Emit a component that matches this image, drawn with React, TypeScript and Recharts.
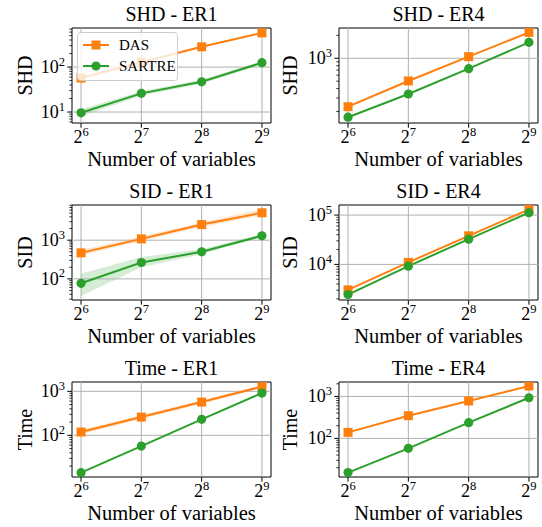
import React from "react";
import {
  ComposedChart,
  Line,
  Area,
  XAxis,
  YAxis,
  ReferenceLine,
  ReferenceArea,
} from "recharts";

// x positions are log2(number of variables)
const sizes = [6, 7, 8, 9];

const shdEr1Das = [57, 128, 282, 575];
const shdEr1DasLo = [54, 121, 268, 548];
const shdEr1DasHi = [60, 135, 296, 602];
const shdEr1Sartre = [9.6, 26, 47, 125];
const shdEr1SartreLo = [8, 23, 42.5, 114];
const shdEr1SartreHi = [11.6, 29, 52, 136];

const shdEr4Das = [231, 503, 1050, 2190];
const shdEr4DasLo = [225, 492, 1030, 2150];
const shdEr4DasHi = [237, 514, 1070, 2230];
const shdEr4Sartre = [168, 339, 730, 1620];
const shdEr4SartreLo = [164, 332, 716, 1590];
const shdEr4SartreHi = [172, 346, 744, 1650];

const sidEr1Das = [470, 1080, 2530, 5100];
const sidEr1DasLo = [400, 950, 2200, 4400];
const sidEr1DasHi = [560, 1250, 2900, 6300];
const sidEr1Sartre = [77, 265, 500, 1300];
const sidEr1SartreLo = [36, 200, 430, 1200];
const sidEr1SartreHi = [135, 370, 580, 1450];

const sidEr4Das = [3050, 11000, 38000, 130000];
const sidEr4DasLo = [2950, 10700, 37000, 126000];
const sidEr4DasHi = [3150, 11300, 39000, 134000];
const sidEr4Sartre = [2450, 9200, 32500, 112000];
const sidEr4SartreLo = [2380, 8950, 31700, 109000];
const sidEr4SartreHi = [2520, 9450, 33300, 115000];

const timeEr1Das = [119, 260, 570, 1280];
const timeEr1DasLo = [106, 235, 520, 1180];
const timeEr1DasHi = [134, 288, 625, 1390];
const timeEr1Sartre = [14.2, 57, 231, 915];
const timeEr1SartreLo = [13.9, 56, 227, 900];
const timeEr1SartreHi = [14.5, 58, 235, 930];

const timeEr4Das = [139, 348, 780, 1770];
const timeEr4DasLo = [132, 334, 752, 1710];
const timeEr4DasHi = [146, 362, 808, 1830];
const timeEr4Sartre = [15.3, 58, 237, 930];
const timeEr4SartreLo = [15, 57, 233, 915];
const timeEr4SartreHi = [15.6, 59, 241, 945];

const ORANGE = "#ff7f0e";
const GREEN = "#2ca02c";
const FONT = "'Liberation Serif', 'DejaVu Serif', serif";

const panels = [
  { title: "SHD - ER1", ylabel: "SHD", col: 0, row: 0, domain: [5.7, 740], das: shdEr1Das, dasLo: shdEr1DasLo, dasHi: shdEr1DasHi, sar: shdEr1Sartre, sarLo: shdEr1SartreLo, sarHi: shdEr1SartreHi },
  { title: "SHD - ER4", ylabel: "SHD", col: 1, row: 0, domain: [141, 2500], das: shdEr4Das, dasLo: shdEr4DasLo, dasHi: shdEr4DasHi, sar: shdEr4Sartre, sarLo: shdEr4SartreLo, sarHi: shdEr4SartreHi },
  { title: "SID - ER1", ylabel: "SID", col: 0, row: 1, domain: [28.5, 8100], das: sidEr1Das, dasLo: sidEr1DasLo, dasHi: sidEr1DasHi, sar: sidEr1Sartre, sarLo: sidEr1SartreLo, sarHi: sidEr1SartreHi },
  { title: "SID - ER4", ylabel: "SID", col: 1, row: 1, domain: [1900, 160000], das: sidEr4Das, dasLo: sidEr4DasLo, dasHi: sidEr4DasHi, sar: sidEr4Sartre, sarLo: sidEr4SartreLo, sarHi: sidEr4SartreHi },
  { title: "Time - ER1", ylabel: "Time", col: 0, row: 2, domain: [11.3, 1630], das: timeEr1Das, dasLo: timeEr1DasLo, dasHi: timeEr1DasHi, sar: timeEr1Sartre, sarLo: timeEr1SartreLo, sarHi: timeEr1SartreHi },
  { title: "Time - ER4", ylabel: "Time", col: 1, row: 2, domain: [12, 2210], das: timeEr4Das, dasLo: timeEr4DasLo, dasHi: timeEr4DasHi, sar: timeEr4Sartre, sarLo: timeEr4SartreLo, sarHi: timeEr4SartreHi },
];

const PLOT_W = 199;
const PLOT_H = 95;
const TOP = 28;
const ROW_H = 177;

const isMajor = (v: number) => Math.abs(Math.log10(v) - Math.round(Math.log10(v))) < 1e-9;

function logTicks(lo: number, hi: number) {
  const out: number[] = [];
  for (let e = Math.floor(Math.log10(lo)); e <= Math.ceil(Math.log10(hi)); e++) {
    for (let m = 1; m < 10; m++) {
      const v = m * Math.pow(10, e);
      if (v >= lo && v <= hi) out.push(v);
    }
  }
  return out;
}

function Panel({ p }: { p: any }) {
  const yW = p.col === 0 ? 72 : 68;
  const left = p.col === 0 ? 0 : 271;
  const width = yW + PLOT_W + 4;
  const plotBottom = TOP + PLOT_H;
  const [lo, hi] = p.domain;
  const ticks = logTicks(lo, hi);
  const majors = ticks.filter(isMajor);

  const data = sizes.map((x, i) => ({
    x,
    das: p.das[i],
    dasBand: [p.dasLo[i], p.dasHi[i]],
    sartre: p.sar[i],
    sartreBand: [p.sarLo[i], p.sarHi[i]],
  }));

  const YTick = (props: any) => {
    const v = props.payload.value;
    const y = props.y;
    if (!isMajor(v)) {
      return <line x1={yW - 2.7} x2={yW} y1={y} y2={y} stroke="#000" strokeWidth={0.8} />;
    }
    const exp = Math.round(Math.log10(v));
    return (
      <g>
        <line x1={yW - 4.7} x2={yW} y1={y} y2={y} stroke="#000" strokeWidth={1} />
        <text x={yW - 7} y={y + 6} textAnchor="end" style={{ fontFamily: FONT }} fontSize={18} fill="#000">
          10<tspan dy={-7.5} fontSize={12.5}>{exp}</tspan>
        </text>
      </g>
    );
  };

  const XTick = (props: any) => {
    const x = props.x;
    return (
      <g>
        <line x1={x} x2={x} y1={plotBottom} y2={plotBottom + 4.7} stroke="#000" strokeWidth={1} />
        <text x={x} y={plotBottom + 20} textAnchor="middle" style={{ fontFamily: FONT }} fontSize={18} fill="#000">
          2<tspan dy={-7.5} fontSize={12.5}>{props.payload.value}</tspan>
        </text>
      </g>
    );
  };

  const labelX = p.col === 0 ? 32 : 26;
  const decor = () => (
    <g style={{ fontFamily: FONT }} fill="#000">
      <text x={yW + PLOT_W / 2} y={21} textAnchor="middle" fontSize={20}>{p.title}</text>
      <text x={yW + PLOT_W / 2} y={plotBottom + 43} textAnchor="middle" fontSize={20.5}>Number of variables</text>
      <text x={labelX} y={TOP + PLOT_H / 2} textAnchor="middle" fontSize={20} transform={`rotate(-90 ${labelX} ${TOP + PLOT_H / 2})`}>{p.ylabel}</text>
    </g>
  );

  return (
    <div style={{ position: "absolute", left, top: p.row * ROW_H }}>
      <ComposedChart width={width} height={ROW_H} data={data} margin={{ top: TOP, right: 4, bottom: 0, left: 0 }}>
        <XAxis type="number" dataKey="x" domain={[5.85, 9.15]} ticks={sizes} interval={0} allowDataOverflow height={ROW_H - TOP - PLOT_H} tick={XTick} tickLine={false} axisLine={false} tickSize={0} tickMargin={0} label={{ content: decor }} />
        <YAxis type="number" scale="log" domain={[lo, hi]} allowDataOverflow ticks={ticks} interval={0} width={yW} tick={YTick} tickLine={false} axisLine={false} tickSize={0} tickMargin={0} />
        {sizes.map((s) => (
          <ReferenceLine key={"vx" + s} x={s} stroke="#b0b0b0" strokeWidth={1} />
        ))}
        {majors.map((m) => (
          <ReferenceLine key={"hy" + m} y={m} stroke="#b0b0b0" strokeWidth={1} />
        ))}
        <Area type="linear" dataKey="dasBand" fill={ORANGE} fillOpacity={0.2} stroke="none" isAnimationActive={false} />
        <Area type="linear" dataKey="sartreBand" fill={GREEN} fillOpacity={0.2} stroke="none" isAnimationActive={false} />
        <Line type="linear" dataKey="das" stroke={ORANGE} strokeWidth={2} isAnimationActive={false}
          dot={(d: any) => <rect key={"sq" + d.index} x={d.cx - 4.5} y={d.cy - 4.5} width={9} height={9} fill={ORANGE} />} />
        <Line type="linear" dataKey="sartre" stroke={GREEN} strokeWidth={2} isAnimationActive={false}
          dot={(d: any) => <circle key={"ci" + d.index} cx={d.cx} cy={d.cy} r={4.6} fill={GREEN} />} />
        <ReferenceArea x1={5.85} x2={9.15} y1={lo} y2={hi} fill="none" fillOpacity={0} stroke="#000" strokeWidth={1} ifOverflow="visible" />
      </ComposedChart>
    </div>
  );
}

function LegendBox() {
  return (
    <svg width={102} height={50} style={{ position: "absolute", left: 77, top: 32 }}>
      <rect x={0.5} y={0.5} width={100} height={48} rx={3} fill="#fff" fillOpacity={0.8} stroke="#cccccc" />
      <line x1={6} x2={32} y1={13} y2={13} stroke={ORANGE} strokeWidth={2} />
      <rect x={14.5} y={8.5} width={9} height={9} fill={ORANGE} />
      <text x={42} y={18} style={{ fontFamily: FONT }} fontSize={15}>DAS</text>
      <line x1={6} x2={32} y1={34} y2={34} stroke={GREEN} strokeWidth={2} />
      <circle cx={19} cy={34} r={4.6} fill={GREEN} />
      <text x={42} y={39} style={{ fontFamily: FONT }} fontSize={15}>SARTRE</text>
    </svg>
  );
}

export default function App() {
  return (
    <div style={{ position: "fixed", left: 0, top: 0, width: 542, height: 527, background: "#fff" }}>
      {panels.map((p) => (
        <Panel key={p.title} p={p} />
      ))}
      <LegendBox />
    </div>
  );
}
